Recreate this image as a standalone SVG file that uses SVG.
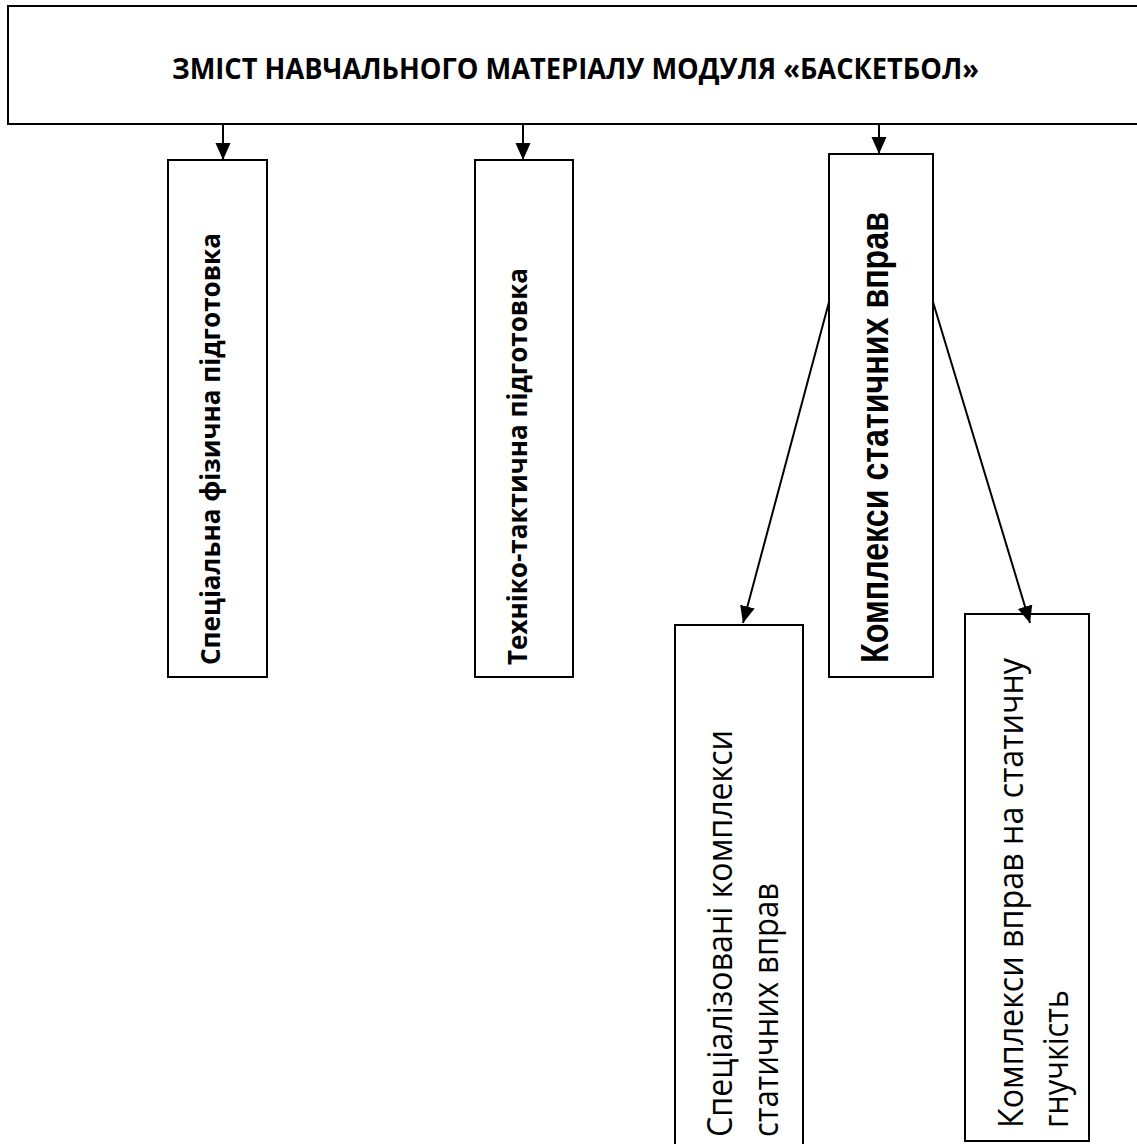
<svg xmlns="http://www.w3.org/2000/svg" width="1137" height="1144" viewBox="0 0 1137 1144">
<style>
.box{fill:#fff;stroke:#000;stroke-width:2}
.con{stroke:#000;stroke-width:2;fill:none;marker-end:url(#ah)}
.tb{font-family:"Open Sans","Noto Sans",sans-serif;font-weight:bold;fill:#000}
.ta{font-family:"Liberation Sans",Arial,sans-serif;font-weight:bold;fill:#000}
.tn{font-family:"Open Sans","Noto Sans",sans-serif;font-weight:normal;fill:#000}
</style>
<defs>
<marker id="ah" markerUnits="userSpaceOnUse" markerWidth="17" markerHeight="17" viewBox="0 0 17 17" refX="17" refY="8.5" orient="auto">
<path d="M0,1 L17,8.5 L0,16 z" fill="#000"/>
</marker>
</defs>
<rect width="1137" height="1144" fill="#fff"/>
<g id="node-title">
<rect class="box" x="8" y="6" width="1140" height="118"/>
<text class="tb" x="172" y="79" font-size="29" textLength="807" lengthAdjust="spacingAndGlyphs">ЗМІСТ НАВЧАЛЬНОГО МАТЕРІАЛУ МОДУЛЯ «БАСКЕТБОЛ»</text>
</g>
<g id="node-sfp">
<rect class="box" x="168" y="160" width="99" height="517"/>
<text class="tb" transform="translate(220,665) rotate(-90)" font-size="27" textLength="432" lengthAdjust="spacingAndGlyphs">Спеціальна фізична підготовка</text>
</g>
<g id="node-ttp">
<rect class="box" x="475" y="160" width="98" height="517"/>
<text class="tb" transform="translate(527,665) rotate(-90)" font-size="27" textLength="397" lengthAdjust="spacingAndGlyphs">Техніко-тактична підготовка</text>
</g>
<g id="node-kss">
<rect class="box" x="829" y="154" width="104" height="523"/>
<text class="ta" transform="translate(888,663) rotate(-90)" font-size="38" textLength="451" lengthAdjust="spacingAndGlyphs">Комплекси статичних вправ</text>
</g>
<g id="node-skss">
<rect class="box" x="675" y="625" width="128" height="530"/>
<text class="tn" transform="translate(732,1137) rotate(-90)" font-size="34" textLength="407" lengthAdjust="spacingAndGlyphs">Спеціалізовані комплекси</text>
<text class="tn" transform="translate(778,1137) rotate(-90)" font-size="34" textLength="254" lengthAdjust="spacingAndGlyphs">статичних вправ</text>
</g>
<g id="node-kvsg">
<rect class="box" x="965" y="614" width="124" height="527"/>
<text class="tn" transform="translate(1023,1128) rotate(-90)" font-size="34" textLength="470" lengthAdjust="spacingAndGlyphs">Комплекси вправ на статичну</text>
<text class="tn" transform="translate(1068,1128) rotate(-90)" font-size="34" textLength="138" lengthAdjust="spacingAndGlyphs">гнучкість</text>
</g>
<g id="connectors">
<line class="con" x1="223" y1="124" x2="223" y2="160"/>
<line class="con" x1="523" y1="124" x2="523" y2="160"/>
<line class="con" x1="879" y1="124" x2="879" y2="154"/>
<line class="con" x1="829" y1="302" x2="743" y2="623"/>
<line class="con" x1="933" y1="302" x2="1030" y2="623"/>
</g>
</svg>
